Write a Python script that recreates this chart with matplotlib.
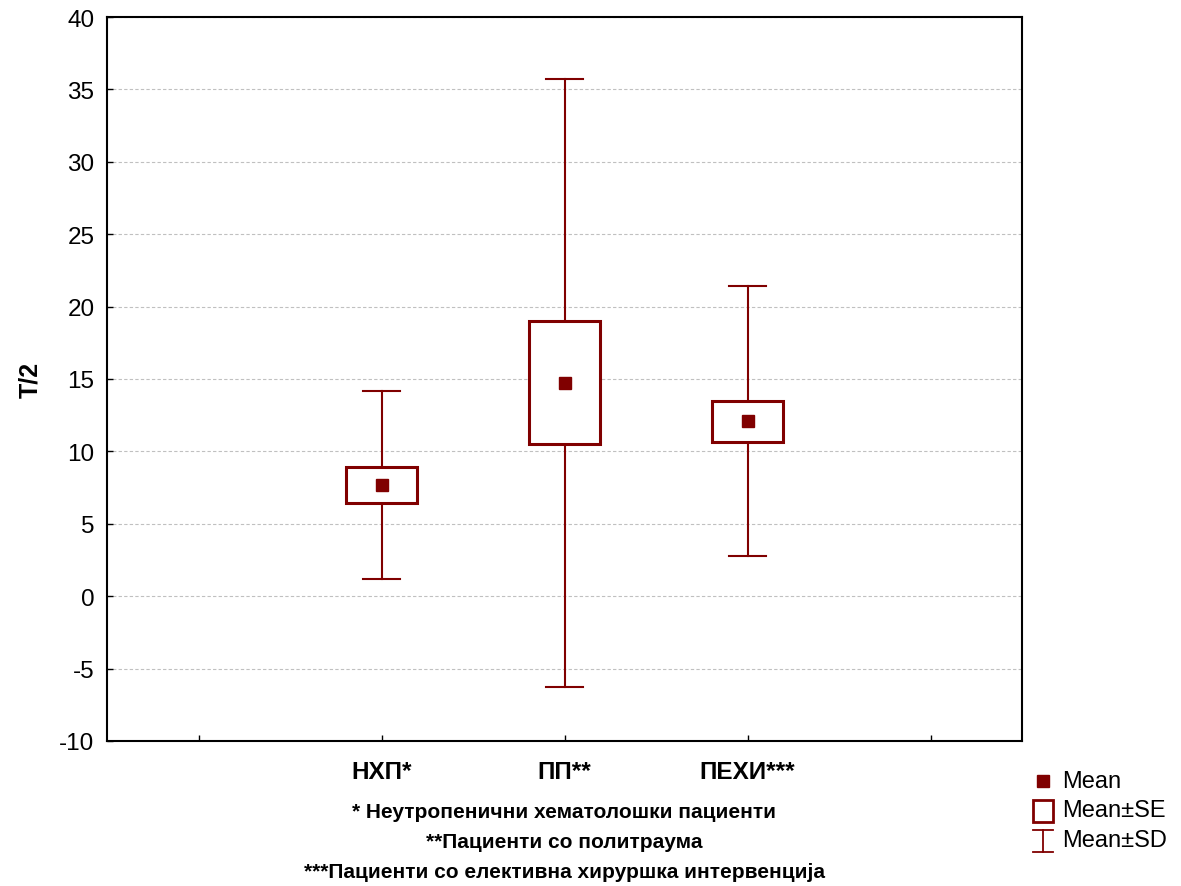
import matplotlib
matplotlib.use("Agg")
import matplotlib.pyplot as plt
from matplotlib.patches import Rectangle
from matplotlib.lines import Line2D

categories = ["НХП*", "ПП**", "ПЕХИ***"]
means = [7.65, 14.7, 12.1]
se_low = [6.45, 10.5, 10.65]
se_high = [8.95, 19.0, 13.5]
sd_low = [1.2, -6.25, 2.8]
sd_high = [14.2, 35.75, 21.4]
footnotes = ["* Неутропенични хематолошки пациенти",
             "**Пациенти со политраума",
             "***Пациенти со елективна хируршка интервенција"]
legend_labels = ["Mean", "Mean±SE", "Mean±SD"]

plt.rcParams['font.family'] = ['Liberation Sans', 'DejaVu Sans']
plt.rcParams['axes.unicode_minus'] = False
color = '#800000'

fig = plt.figure(figsize=(11.81, 8.87), dpi=100)
ax = fig.add_axes([0.0906, 0.1635, 0.7748, 0.8162])

positions = [2, 3, 4]
bw = 0.39
cw = 0.2
for x, m, sl, sh, dl, dh in zip(positions, means, se_low, se_high, sd_low, sd_high):
    ax.plot([x, x], [dl, sl], color=color, lw=1.5, zorder=3)
    ax.plot([x, x], [sh, dh], color=color, lw=1.5, zorder=3)
    ax.plot([x - cw/2, x + cw/2], [dl, dl], color=color, lw=1.5, zorder=3)
    ax.plot([x - cw/2, x + cw/2], [dh, dh], color=color, lw=1.5, zorder=3)
    ax.add_patch(Rectangle((x - bw/2, sl), bw, sh - sl, facecolor='white',
                           edgecolor=color, lw=2.2, zorder=4))
    ax.plot([x], [m], marker='s', ms=9, color=color, ls='none', zorder=5)

ax.set_xlim(0.5, 5.5)
ax.set_ylim(-10, 40)
ax.set_xticks([1, 2, 3, 4, 5])
ax.set_xticklabels(["", categories[0], categories[1], categories[2], ""],
                   fontsize=15, fontweight='bold')
ax.set_yticks(range(-10, 41, 5))
ax.tick_params(axis='both', direction='in', length=4, width=1, labelsize=17.5)
ax.tick_params(axis='y', pad=9)
ax.tick_params(axis='x', pad=14)
ax.tick_params(top=False, right=False)
ax.yaxis.grid(True, linestyle=(0, (3, 2)), color='#c0c0c0', lw=0.8)
ax.set_axisbelow(True)
for s in ax.spines.values():
    s.set_linewidth(1.5)
    s.set_color('black')

ax.set_ylabel("T/2", fontsize=18, fontweight='bold', labelpad=12)

ys = [813, 843, 873]
for t, yp in zip(footnotes, ys):
    fig.text(564/1181, 1 - yp/887, t, ha='center', va='center',
             fontsize=15, fontweight='bold')

# legend drawn manually
W, H = 1181, 887
cx = 1043
fig.add_artist(Line2D([cx/W], [1 - 782/H], marker='s', color=color, ms=8, ls='none',
                      transform=fig.transFigure))
fig.add_artist(Rectangle(((cx - 10)/W, 1 - 823/H), 20/W, 22/H,
                         facecolor='white', edgecolor=color, lw=2, transform=fig.transFigure))
fig.add_artist(Line2D([cx/W, cx/W], [1 - 831/H, 1 - 853/H], color=color, lw=1.3,
                      transform=fig.transFigure))
for yy in (831, 853):
    fig.add_artist(Line2D([(cx - 10)/W, (cx + 10)/W], [1 - yy/H, 1 - yy/H], color=color, lw=1.3,
                          transform=fig.transFigure))
for lab, yp in zip(legend_labels, [782, 811, 841]):
    fig.text(1062/W, 1 - yp/H, lab, ha='left', va='center', fontsize=17)

fig.savefig("out.png", dpi=100)
